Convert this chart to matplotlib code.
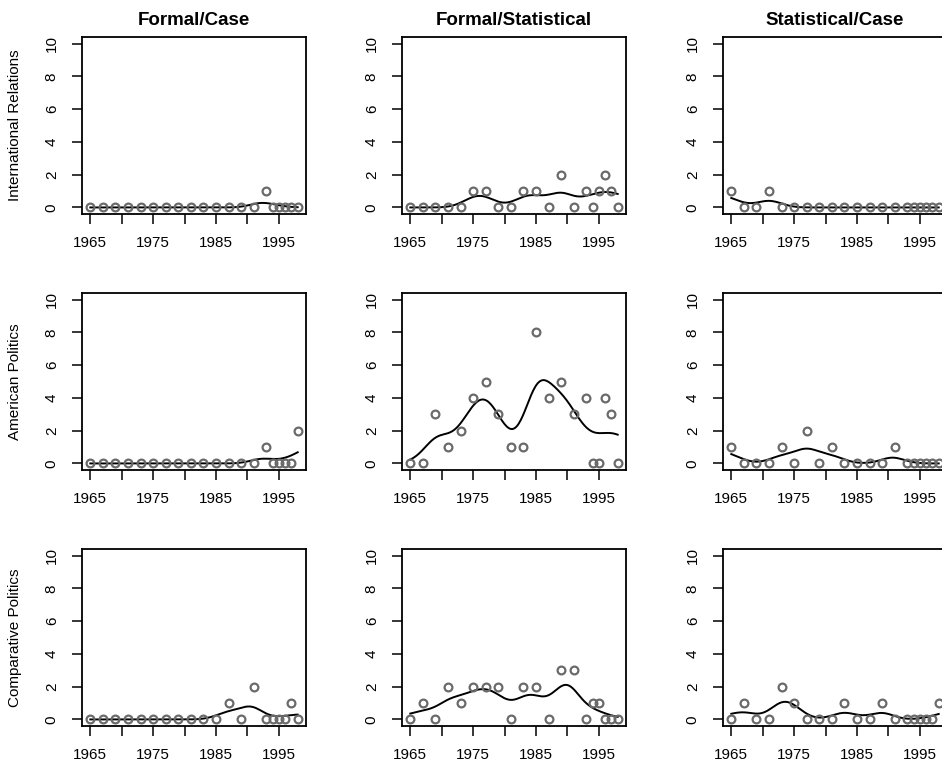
import matplotlib
matplotlib.use("Agg")
import matplotlib.pyplot as plt
import numpy as np

plt.rcParams['font.family'] = ['Liberation Sans', 'DejaVu Sans']

years = [1965, 1967, 1969, 1971, 1973, 1975, 1977, 1979, 1981, 1983,
         1985, 1987, 1989, 1991, 1993, 1994, 1995, 1996, 1997, 1998]

col_titles = ["Formal/Case", "Formal/Statistical", "Statistical/Case"]
row_titles = ["International Relations", "American Politics", "Comparative Politics"]

# counts per year, one list per panel
ir_formal_case = [0, 0, 0, 0, 0, 0, 0, 0, 0, 0, 0, 0, 0, 0, 1, 0, 0, 0, 0, 0]
ir_formal_stat = [0, 0, 0, 0, 0, 1, 1, 0, 0, 1, 1, 0, 2, 0, 1, 0, 1, 2, 1, 0]
ir_stat_case = [1, 0, 0, 1, 0, 0, 0, 0, 0, 0, 0, 0, 0, 0, 0, 0, 0, 0, 0, 0]

ap_formal_case = [0, 0, 0, 0, 0, 0, 0, 0, 0, 0, 0, 0, 0, 0, 1, 0, 0, 0, 0, 2]
ap_formal_stat = [0, 0, 3, 1, 2, 4, 5, 3, 1, 1, 8, 4, 5, 3, 4, 0, 0, 4, 3, 0]
ap_stat_case = [1, 0, 0, 0, 1, 0, 2, 0, 1, 0, 0, 0, 0, 1, 0, 0, 0, 0, 0, 0]

cp_formal_case = [0, 0, 0, 0, 0, 0, 0, 0, 0, 0, 0, 1, 0, 2, 0, 0, 0, 0, 1, 0]
cp_formal_stat = [0, 1, 0, 2, 1, 2, 2, 2, 0, 2, 2, 0, 3, 3, 0, 1, 1, 0, 0, 0]
cp_stat_case = [0, 1, 0, 0, 2, 1, 0, 0, 0, 1, 0, 0, 1, 0, 0, 0, 0, 0, 0, 1]

panels = [
    [ir_formal_case, ir_formal_stat, ir_stat_case],
    [ap_formal_case, ap_formal_stat, ap_stat_case],
    [cp_formal_case, cp_formal_stat, cp_stat_case],
]


def smooth(x, y, bw=2.0):
    # gaussian kernel smoother
    x = np.asarray(x, float)
    y = np.asarray(y, float)
    grid = np.linspace(x.min(), x.max(), 200)
    w = np.exp(-0.5 * ((grid[:, None] - x[None, :]) / bw) ** 2)
    return grid, (w * y).sum(axis=1) / w.sum(axis=1)


W, H = 942, 767
fig = plt.figure(figsize=(W / 100, H / 100), dpi=100)

col_left = [82, 402, 723]
row_top = [37, 293, 549]
aw, ah = 224, 177

for r in range(3):
    for c in range(3):
        ax = fig.add_axes([col_left[c] / W, 1 - (row_top[r] + ah) / H, aw / W, ah / H])
        vals = panels[r][c]
        ax.plot(years, vals, 'o', mfc='none', mec='#6a6a6a', mew=1.6, ms=5.6, zorder=3)
        gx, gy = smooth(years, vals)
        ax.plot(gx, gy, color='black', lw=1.4, zorder=2)

        ax.set_xlim(1963.68, 1999.32)
        ax.set_ylim(-0.4, 10.4)
        ax.set_xticks([1965, 1970, 1975, 1980, 1985, 1990, 1995])
        ax.set_xticklabels(["1965", "", "1975", "", "1985", "", "1995"])
        ax.set_yticks([0, 2, 4, 6, 8, 10])
        ax.tick_params(axis='both', direction='out', length=7.2, width=1.1,
                       labelsize=11, color='black')
        ax.tick_params(axis='x', pad=8.5)
        ax.tick_params(axis='y', pad=9.5, labelrotation=90)
        for t in ax.get_yticklabels():
            t.set_va('center')
        for s in ax.spines.values():
            s.set_linewidth(1.3)

        if r == 0:
            ax.set_title(col_titles[c], fontsize=13.5, fontweight='bold', pad=8.6)
        if c == 0:
            fig.text(15 / W, 1 - (row_top[r] + ah / 2) / H, row_titles[r],
                     rotation=90, ha='center', va='center', fontsize=11)

fig.savefig("out.png", dpi=100)
